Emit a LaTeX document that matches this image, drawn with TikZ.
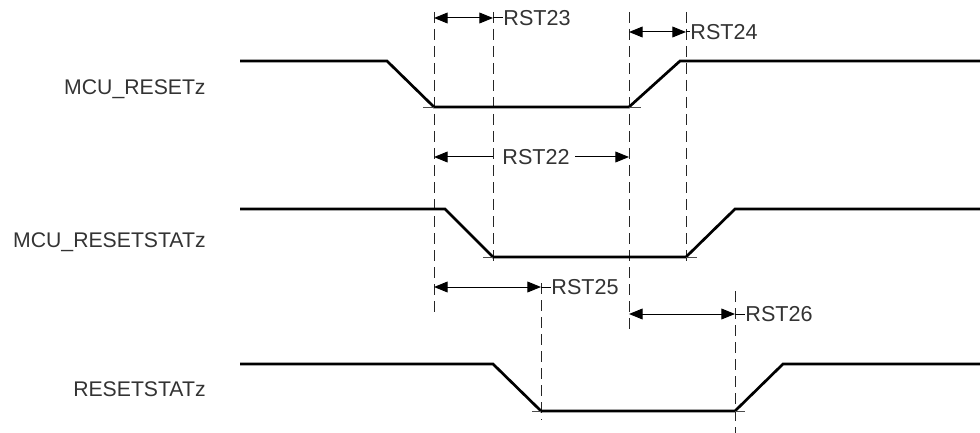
\documentclass[tikz,border=0pt]{standalone}
\usepackage{fontspec}
\setmainfont{Liberation Sans}
\usetikzlibrary{arrows.meta}
\definecolor{txt}{HTML}{333333}
\begin{document}
\begin{tikzpicture}[x=0.5pt,y=-0.5pt,
  wave/.style={line width=1.35pt,black,line join=miter},
  guide/.style={line width=0.5pt,black!85,dash pattern=on 5.5pt off 3pt},
  tickln/.style={line width=0.35pt,black!70},
  tip/.tip={Triangle[length=6.8pt,width=5.4pt]},
  dim/.style={line width=0.5pt,black,tip-tip},
  sig/.style={anchor=east,text=txt,font=\fontsize{10.6pt}{12pt}\selectfont,inner sep=0pt},
  lbl/.style={anchor=west,text=txt,font=\fontsize{10.8pt}{12pt}\selectfont,inner sep=0pt}]
\useasboundingbox (0,0) rectangle (980,433);
% signal labels
\node[sig] (l1) at (206,89) {MCU\_RESETz};
\node[sig] (l2) at (206,242) {MCU\_RESETSTATz};
\node[sig] (l3) at (206,389) {RESETSTATz};
% guide lines
\coordinate (g1t) at (434,12); \coordinate (g1b) at (434,315);
\coordinate (g2t) at (493,12); \coordinate (g2b) at (493,266);
\coordinate (g3t) at (629,12); \coordinate (g3b) at (629,332);
\coordinate (g4t) at (686,12); \coordinate (g4b) at (686,266);
\coordinate (g5t) at (541,283); \coordinate (g5b) at (541,420);
\coordinate (g6t) at (735,291); \coordinate (g6b) at (735,433);
\draw[guide] (g1t) -- (g1b);
\draw[guide] (g2t) -- (g2b);
\draw[guide] (g3t) -- (g3b);
\draw[guide] (g4t) -- (g4b);
\draw[guide] (g5t) -- (g5b);
\draw[guide] (g6t) -- (g6b);
% waveforms
\draw[wave] (240,61) -- (387,61) -- (434,107) -- (629,107) -- (680,61) -- (980,61);
\draw[wave] (240,209) -- (445,209) -- (493,257) -- (686,257) -- (735,209) -- (980,209);
\draw[wave] (240,364) -- (493,364) -- (541,411) -- (735,411) -- (783,364) -- (980,364);
% corner ticks
\draw[tickln] (423,107) -- (434,107) (629,107) -- (641,107);
\draw[tickln] (483,257) -- (493,257) (686,257) -- (697,257);
\draw[tickln] (532,411) -- (541,411) (735,411) -- (745,411);
% timing dimensions
\node[lbl] (t23) at (503,18) {RST23};
\draw[dim] (434,18) -- (493,18);
\draw[line width=0.5pt] (493,18) -- (t23.west);
\node[lbl] (t24) at (690,32) {RST24};
\draw[dim] (629,32) -- (686,32);
\draw[line width=0.5pt] (686,32) -- (t24.west);
\node[lbl] (t22) at (502,157) {RST22};
\draw[line width=0.5pt,tip-] (434,157) -- (493,157);
\draw[line width=0.5pt,-tip] (575,157) -- (629,157);
\node[lbl] (t25) at (551,287) {RST25};
\draw[dim] (434,287) -- (541,287);
\draw[line width=0.5pt] (541,287) -- (t25.west);
\node[lbl] (t26) at (745,314) {RST26};
\draw[dim] (629,314) -- (735,314);
\draw[line width=0.5pt] (735,314) -- (t26.west);
\end{tikzpicture}
\end{document}
